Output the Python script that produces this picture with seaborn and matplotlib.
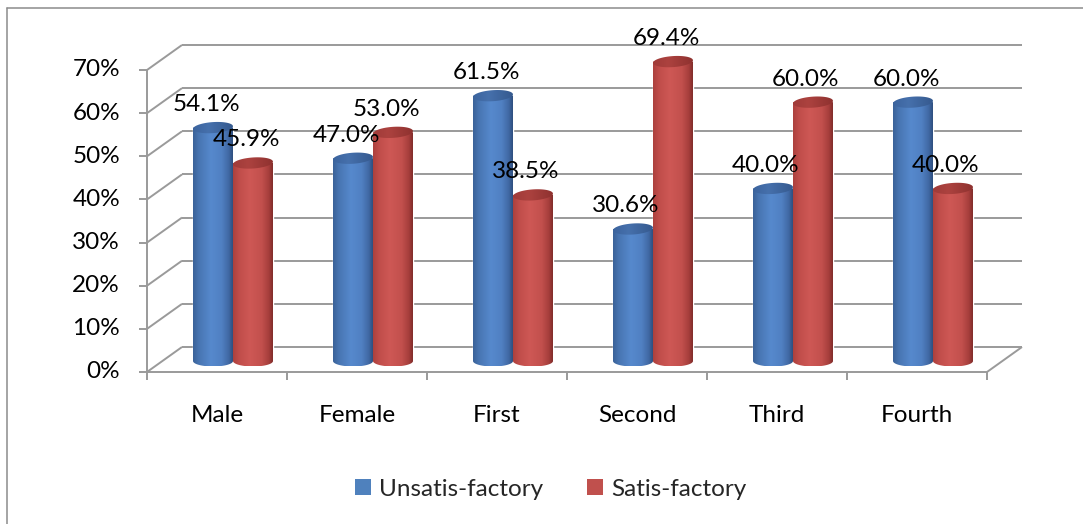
import numpy as np
import pandas as pd
import matplotlib
matplotlib.use("Agg")
import matplotlib.pyplot as plt
import seaborn as sns
from matplotlib import transforms
from matplotlib.path import Path
from matplotlib.patches import Rectangle
from matplotlib.lines import Line2D

# ---- data -------------------------------------------------------------
categories = ["Male", "Female", "First", "Second", "Third", "Fourth"]
unsatisfactory = [54.1, 47.0, 61.5, 30.6, 40.0, 60.0]
satisfactory = [45.9, 53.0, 38.5, 69.4, 60.0, 40.0]
series_names = ["Unsatis-factory", "Satis-factory"]
y_ticks = [0, 10, 20, 30, 40, 50, 60, 70]
y_tick_labels = ["0%", "10%", "20%", "30%", "40%", "50%", "60%", "70%"]

df = pd.DataFrame({
    "category": categories * 2,
    "pct": unsatisfactory + satisfactory,
    "group": [series_names[0]] * len(categories) + [series_names[1]] * len(categories),
})

# ---- style ------------------------------------------------------------
BLUE = "#4F81BD"
RED = "#C0504D"
GRID = "#9A9A9A"
FONT_SIZE = 17.5

sns.set_theme(style="white")
plt.rcParams["font.family"] = ["Lato", "DejaVu Sans"]

W, H = 1083, 524
DPI = 100
fig = plt.figure(figsize=(W / DPI, H / DPI), dpi=DPI)
fig.patch.set_facecolor("white")

# plotting box (bar base plane); 3-D look comes from offset front/back planes
ax = fig.add_axes([163 / W, (H - 361) / H, 840 / W, 302 / H])
ax.set_facecolor("none")
sns.barplot(
    data=df, x="category", y="pct", hue="group",
    order=categories, hue_order=series_names,
    palette=[BLUE, RED], saturation=1, width=0.5714,
    legend=False, ax=ax, zorder=2,
)
ax.set_xlim(-0.5, len(categories) - 0.5)
ax.set_ylim(0, 70)
ax.set_autoscale_on(False)
ax.axis("off")

ident = transforms.IdentityTransform()
front = transforms.offset_copy(ax.transData, fig=fig, x=-16, y=-11, units="dots")
back = transforms.offset_copy(ax.transData, fig=fig, x=19, y=14, units="dots")
PX = 72.0 / DPI  # points per pixel

x_lo, x_hi = ax.get_xlim()


def seg(p1, p2, **kw):
    ax.add_line(Line2D([p1[0], p2[0]], [p1[1], p2[1]], transform=ident,
                       color=GRID, lw=1.4, clip_on=False, zorder=1,
                       solid_capstyle="butt", **kw))


# back wall gridlines + left wall diagonals
for t in y_ticks:
    b_left = back.transform((x_lo, t))
    b_right = back.transform((x_hi, t))
    f_left = front.transform((x_lo, t))
    seg(b_left, b_right)
    seg(f_left, b_left)
    seg((f_left[0] - 8, f_left[1]), f_left)  # tick mark

# front value axis
seg(front.transform((x_lo, 0)), front.transform((x_lo, y_ticks[-1])))
# floor front edge and right edge
seg(front.transform((x_lo, 0)), front.transform((x_hi, 0)))
seg(front.transform((x_hi, 0)), back.transform((x_hi, 0)))
# category boundary ticks
for k in range(len(categories) + 1):
    p = front.transform((x_lo + k, 0))
    seg(p, (p[0], p[1] - 8))

# value axis labels
for t, lab in zip(y_ticks, y_tick_labels):
    ax.annotate(lab, xy=(x_lo, t), xycoords=front, xytext=(-27 * PX, 0),
                textcoords="offset points", ha="right", va="center",
                fontsize=FONT_SIZE, color="black", annotation_clip=False)

# category labels
for i, cat in enumerate(categories):
    ax.annotate(cat, xy=(i, 0), xycoords=front, xytext=(0, -44 * PX),
                textcoords="offset points", ha="center", va="center",
                fontsize=FONT_SIZE, color="black", annotation_clip=False)


# ---- cylinder shading -------------------------------------------------
def gradient(stops):
    t = np.linspace(0, 1, 256)
    pos = [s[0] for s in stops]
    rgb = np.array([s[1] for s in stops], dtype=float) / 255.0
    cols = np.stack([np.interp(t, pos, rgb[:, c]) for c in range(3)], axis=-1)
    return cols[np.newaxis, :, :]


body_grad = {
    BLUE: gradient([(0.0, (58, 98, 152)), (0.15, (72, 117, 178)),
                    (0.45, (86, 137, 205)), (0.72, (80, 128, 194)),
                    (0.90, (64, 104, 163)), (1.0, (46, 78, 126))]),
    RED: gradient([(0.0, (172, 64, 62)), (0.15, (192, 77, 74)),
                   (0.42, (206, 88, 85)), (0.72, (194, 80, 77)),
                   (0.90, (166, 62, 60)), (1.0, (128, 44, 42))]),
}
cap_grad = {
    BLUE: gradient([(0.0, (58, 98, 155)), (0.4, (70, 112, 172)),
                    (1.0, (52, 88, 140))]),
    RED: gradient([(0.0, (158, 58, 56)), (0.4, (172, 66, 63)),
                   (1.0, (140, 48, 46))]),
}

RY = 5.5      # ellipse half-height in pixels
TILT = np.deg2rad(4)

for container, color in zip(ax.containers, [BLUE, RED]):
    for p in container.patches:
        x0, w, h = p.get_x(), p.get_width(), p.get_height()
        xl, yb = ax.transData.transform((x0, 0))
        xr, yt = ax.transData.transform((x0 + w, h))
        cx, rx = (xl + xr) / 2, (xr - xl) / 2

        # body: rectangle with rounded (half-ellipse) bottom
        th = np.linspace(np.pi, 2 * np.pi, 60)
        arc = np.column_stack([cx + rx * np.cos(th), yb + RY * np.sin(th)])
        verts = np.vstack([[xl, yt], arc, [xr, yt], [xl, yt]])
        body = Path(verts, closed=True)
        im = ax.imshow(body_grad[color], extent=[xl, xr, yb - RY, yt],
                       transform=ident, aspect="auto",
                       interpolation="bilinear", zorder=3)
        im.set_clip_path(body, ident)
        im.set_clip_box(fig.bbox)

        # top cap (slightly tilted ellipse)
        th = np.linspace(0, 2 * np.pi, 90)
        ex, ey = rx * np.cos(th), RY * np.sin(th)
        cap_pts = np.column_stack([cx + ex * np.cos(TILT) - ey * np.sin(TILT),
                                   yt + ex * np.sin(TILT) + ey * np.cos(TILT)])
        cap = Path(cap_pts, closed=True)
        imc = ax.imshow(cap_grad[color],
                        extent=[xl - 2, xr + 2, yt - RY - 4, yt + RY + 4],
                        transform=ident, aspect="auto",
                        interpolation="bilinear", zorder=4)
        imc.set_clip_path(cap, ident)
        imc.set_clip_box(fig.bbox)

        # value label
        ax.annotate(f"{h:.1f}%", xy=(x0 + w / 2, h), xycoords="data",
                    xytext=(-7 * PX, 23 * PX), textcoords="offset points",
                    ha="center", va="center", fontsize=FONT_SIZE,
                    color="black", zorder=6, annotation_clip=False)

ax.set_xlim(-0.5, len(categories) - 0.5)
ax.set_ylim(0, 70)

# ---- legend -----------------------------------------------------------
handles = [Rectangle((0, 0), 1, 1, facecolor=BLUE, edgecolor="none"),
           Rectangle((0, 0), 1, 1, facecolor=RED, edgecolor="none")]
fig.legend(handles, series_names, loc="center",
           bbox_to_anchor=(551 / W, 1 - 489 / H), ncol=2, frameon=False,
           fontsize=FONT_SIZE, handlelength=0.65, handleheight=0.65,
           handletextpad=0.35, columnspacing=1.8)

# chart area border (top and left edges)
border = dict(color="#8C8C8C", lw=1.1, transform=fig.transFigure)
fig.add_artist(Line2D([7 / W, 1.0], [1 - 8 / H, 1 - 8 / H], **border))
fig.add_artist(Line2D([7 / W, 7 / W], [1 - 8 / H, 0.0], **border))

fig.savefig("out.png", dpi=DPI, facecolor="white")
